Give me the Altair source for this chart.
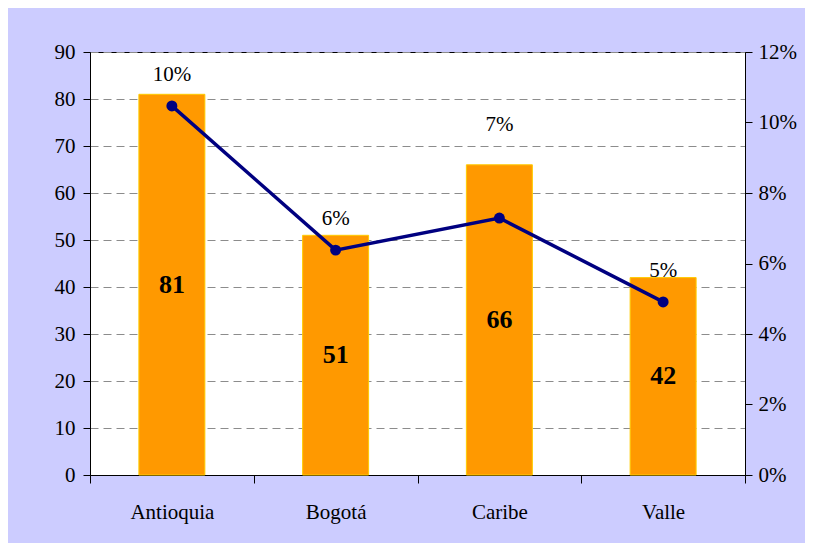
import altair as alt
import pandas as pd

regions = ["Antioquia", "Bogotá", "Caribe", "Valle"]
counts = [81, 51, 66, 42]
shares = [0.1047, 0.0638, 0.0729, 0.0491]
left_ticks = [0, 10, 20, 30, 40, 50, 60, 70, 80, 90]
right_ticks = [0, 0.02, 0.04, 0.06, 0.08, 0.10, 0.12]

df = pd.DataFrame({"region": regions, "count": counts, "share": shares})

FONT = "'Times New Roman', 'Liberation Serif', Times, serif"

x = alt.X(
    "region:N",
    sort=regions,
    title=None,
    scale=alt.Scale(paddingInner=0, paddingOuter=0),
    axis=alt.Axis(
        labelAngle=0, tickBand="extent", tickSize=8, labelPadding=18,
        domainColor="black", tickColor="black", labelColor="black",
        labelFont=FONT, labelFontSize=21, grid=False,
    ),
)

base = alt.Chart(df)

bars = base.mark_bar(
    width=alt.RelativeBandSize(0.403), color="#FF9900", stroke="#FFCC00", strokeWidth=1
).encode(
    x=x,
    y=alt.Y(
        "count:Q",
        scale=alt.Scale(domain=[0, 90]),
        title=None,
        axis=alt.Axis(
            values=left_ticks, tickSize=7, labelPadding=8, grid=True,
            gridDash=[8, 5], gridColor="#8c8c8c", domainColor="black",
            tickColor="black", labelColor="black", labelFont=FONT, labelFontSize=21,
        ),
    ),
)

bar_labels = base.transform_calculate(half="datum.count / 2").mark_text(
    font=FONT, fontSize=26, fontWeight="bold", color="black", baseline="middle"
).encode(
    x=x,
    y=alt.Y("half:Q", scale=alt.Scale(domain=[0, 90])),
    text=alt.Text("count:Q"),
)

left_layer = alt.layer(bars, bar_labels)

y_right = alt.Y(
    "share:Q",
    scale=alt.Scale(domain=[0, 0.12]),
    title=None,
    axis=alt.Axis(
        orient="right", values=right_ticks, format=".0%", grid=False,
        tickSize=7, labelPadding=6, domainColor="black", tickColor="black",
        labelColor="black", labelFont=FONT, labelFontSize=21,
    ),
)

line = base.mark_line(color="#000080", strokeWidth=3.5).encode(x=x, y=y_right)
points = base.mark_point(filled=True, size=120, color="#000080", opacity=1).encode(x=x, y=y_right)

pct_labels = base.transform_filter("datum.region != 'Caribe'").mark_text(
    font=FONT, fontSize=21, color="black", dy=-31
).encode(x=x, y=y_right, text=alt.Text("share:Q", format=".0%"))

pct_label_caribe = base.transform_filter("datum.region == 'Caribe'").mark_text(
    font=FONT, fontSize=21, color="black", dy=-93
).encode(x=x, y=y_right, text=alt.Text("share:Q", format=".0%"))

right_layer = alt.layer(line, points, pct_labels, pct_label_caribe)

chart = (
    alt.layer(left_layer, right_layer)
    .resolve_scale(y="independent")
    .properties(
        width=655,
        height=423,
        autosize=alt.AutoSizeParams(type="none"),
        padding={"left": 82, "top": 44, "right": 60, "bottom": 68},
        background="#CCCCFF",
    )
    .configure_view(fill="white", stroke="black", strokeWidth=1)
)

chart.save("out.html", embed_options={"renderer": "svg", "actions": False})
